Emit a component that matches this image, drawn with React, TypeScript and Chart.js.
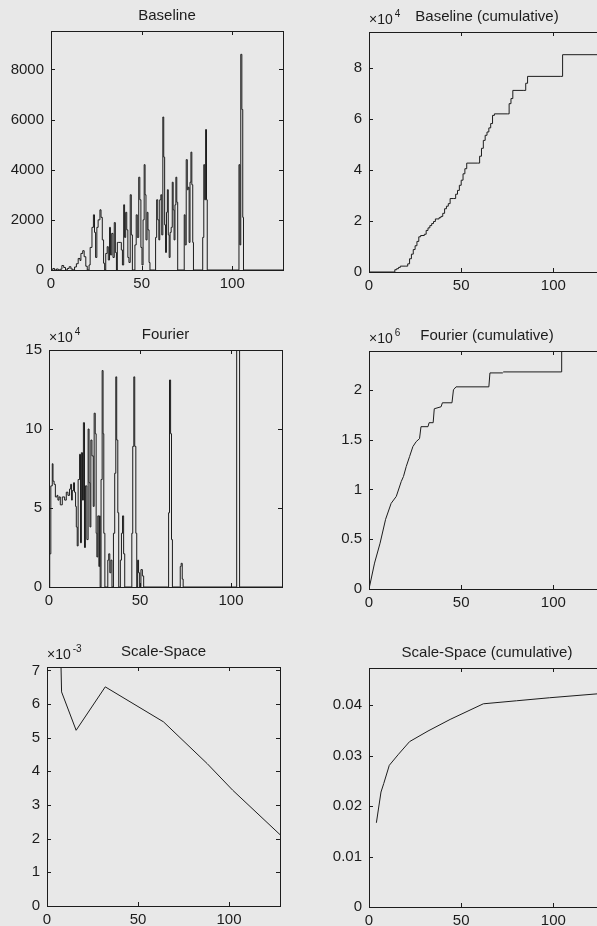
import React, { useEffect, useRef } from "react";
import { Chart, registerables } from "chart.js";
Chart.register(...registerables);

// ---------- shared axis data ----------
const xTicks = [0, 50, 100];
const xMax = 128;

// ---------- Baseline ----------
const baselineX = [
  0, 1, 2, 3, 4, 5, 6, 7, 8, 9, 10, 11, 12, 13, 14, 15, 16, 16.5, 17.5, 18.3, 19.2, 20,
  21, 21.6, 22.6, 23.4, 24, 24.6, 25.3, 26, 27, 27.6, 28.3, 29, 29.6, 30.2, 31, 31.6, 32.3, 32.8, 33.5, 34.2, 34.9, 35.5, 36.1, 36.6, 37.4, 38.2, 38.8, 39.4,
  40.1, 40.6, 41.2, 41.8, 42.4, 43, 43.7, 44.3, 44.9, 45.7, 46.3, 47, 47.6, 48.4, 49, 49.6, 50.2, 50.8, 51.4, 51.9, 52.4, 53, 53.5, 54.1, 54.6,
  57.2, 57.7, 58.3, 58.9, 59.5, 60, 60.6, 61.1, 61.7, 62.2, 62.7, 63.2, 63.7, 64.2, 64.7, 65.2, 65.7, 66.3, 66.9, 67.4, 67.9, 68.4, 68.9, 69.4, 69.9,
  72.9, 73.5, 74, 74.6, 75.2, 75.7, 76.2, 76.7, 77.2, 77.7, 78.2, 78.6,
  83.2, 83.7, 84.3, 84.8, 85.3, 85.8, 86.2,
  103.2, 103.7, 104.2, 104.7, 105.3, 105.8, 106.2, 128,
];
const baselineY = [
  0, 60, 0, 40, 0, 30, 180, 100, 0, 60, 130, 40, 0, 120, 250, 460, 380, 660, 770, 530, 150, 0,
  200, 900, 1700, 2200, 1500, 500, 1700, 2000, 2400, 2100, 1200, 270, 0, 660, 930, 400, 1700, 600, 1460, 500, 1890, 700, 0, 1100, 1100, 1100, 800, 200,
  2600, 1300, 2300, 1600, 500, 300, 3000, 1400, 0, 0, 1000, 2200, 1300, 3700, 2800, 900, 200, 2000, 4200, 3000, 1200, 2300, 1600, 300, 0,
  0, 1300, 2800, 2000, 1200, 2800, 3000, 1400, 6100, 4500, 1800, 700, 2300, 3200, 1400, 500, 1500, 1700, 3500, 2400, 1200, 2600, 3700, 2700, 0,
  0, 2200, 1000, 4400, 3200, 3300, 1100, 3500, 4700, 3400, 1100, 0,
  0, 1300, 4200, 2800, 5600, 2800, 0,
  0, 4200, 1000, 8600, 6400, 2100, 0, 0,
];
const baselineTicks = [0, 2000, 4000, 6000, 8000];
const baselineMax = 9530;

// ---------- Baseline (cumulative) ----------
const baselineCumX = [
  0, 13, 14, 15, 16, 17, 20, 21, 22, 23, 24, 25, 26, 27, 28, 30, 31, 32, 33, 34, 35, 36, 38, 39,
  40, 41, 42, 43, 44, 46, 47, 48, 49, 50, 51, 52, 53, 59, 60, 61, 62, 63, 64, 65, 66, 67, 68,
  75, 76, 77, 78, 84, 85, 86, 104, 105, 128,
];
const baselineCumY = [
  0, 0, 900, 1300, 1800, 2300, 2300, 3200, 5200, 7000, 8800, 10300, 12000, 13800, 14300, 14800, 16300, 17300, 18200, 19000, 19800, 20800, 21300, 21800,
  23000, 24800, 25800, 26800, 28800, 28800, 30500, 32000, 34000, 36000, 38500, 40500, 42700, 42700, 45400, 48500, 51600, 53600, 54900, 56500, 58200, 61400, 62000,
  62000, 66000, 68000, 71200, 71200, 74000, 76700, 76700, 85200, 85200,
];
const baselineCumTicks = [0, 20000, 40000, 60000, 80000];
const baselineCumMax = 94100;

// ---------- Fourier ----------
const fourierX = [
  0, 0.4, 1, 1.8, 2.2, 2.8, 3.5, 4.4, 4.9, 5.5, 6.2, 7.3, 8.6, 9.5, 10.4, 11.3, 11.9, 12.4, 12.8, 13.5, 14, 14.6, 15, 15.5,
  16, 16.8, 17.3, 17.8, 18.4, 18.9, 19.5, 20, 20.8, 21.5, 22, 22.5, 23, 23.6, 24.3, 24.8, 25.4, 25.9, 26.3, 26.8, 27.4, 27.8,
  28.1, 28.6, 29.2, 29.7, 30.1, 30.7, 31.6, 32.3, 32.8, 33.4, 34, 34.6, 35.4, 36.1, 36.7, 37.2, 37.8, 38.3, 38.8, 39.2, 39.8,
  40.4, 41, 41.6, 45.1, 45.5, 46, 46.6, 47.1, 47.7, 48.2, 48.7, 49.2, 49.8, 50.5, 51.3, 52,
  65, 65.7, 66.2, 66.8, 67.3, 67.8, 71.6, 72.1, 72.6, 73.2, 73.7,
  103, 103.1, 104.6, 104.7, 128,
];
const fourierY = [
  0, 21000, 64000, 78000, 67000, 65000, 57000, 58000, 55000, 57000, 52000, 57000, 55000, 60000, 58000, 62000, 65000, 55000, 61000, 66000, 60000, 51000, 38000, 26000,
  68000, 84000, 28000, 85000, 55000, 104000, 25000, 64000, 30000, 100000, 66000, 38000, 93000, 83000, 51000, 110000, 97000, 34000, 19000, 45000, 13000, 45000,
  0, 68000, 137000, 97000, 34000, 0, 0, 17000, 21000, 9000, 17000, 0, 34000, 72000, 133000, 93000, 47000, 0, 0, 17000, 34000,
  45000, 21000, 0, 0, 34000, 89000, 133000, 89000, 34000, 0, 17000, 9000, 0, 11000, 7000, 0,
  0, 47000, 131000, 97000, 30000, 0, 0, 13000, 15000, 5000, 0,
  0, 400000, 400000, 0, 0,
];
const fourierTicks = [0, 50000, 100000, 150000];
const fourierMax = 150000;

// ---------- Fourier (cumulative) ----------
const fourierCumX = [
  0, 3, 6, 9, 12, 14.8, 17.5, 18.7, 20.2, 22, 23.8, 25.6, 27.4, 28.2, 32, 32.6, 34.8, 35.4, 39.1, 39.8,
  45, 45.8, 47.2, 65, 65.6, 72.4, 73, 104.3, 104.5, 128,
];
const fourierCumY = [
  0, 260000, 460000, 700000, 860000, 930000, 1080000, 1130000, 1230000, 1330000, 1430000, 1480000, 1510000, 1630000, 1630000, 1670000, 1670000, 1810000, 1830000, 1870000,
  1870000, 2000000, 2030000, 2030000, 2170000, 2170000, 2180000, 2180000, 2390000, 2390000,
];
const fourierCumTicks = [0, 500000, 1000000, 1500000, 2000000];
const fourierCumMax = 2390000;

// ---------- Scale-Space ----------
const scaleX = [4, 8, 16, 32, 64, 88, 102, 128];
const scaleY = [0.0165, 0.00636, 0.00522, 0.00651, 0.00547, 0.00423, 0.00344, 0.00212];
const scaleTicks = [0, 0.001, 0.002, 0.003, 0.004, 0.005, 0.006, 0.007];
const scaleMax = 0.0071;

// ---------- Scale-Space (cumulative) ----------
const scaleCumX = [4, 6.5, 8, 11, 16, 22, 32, 44, 62, 80, 98, 128];
const scaleCumY = [0.0167, 0.0228, 0.0245, 0.0281, 0.0303, 0.0328, 0.0349, 0.0372, 0.0403, 0.0409, 0.0415, 0.0424];
const scaleCumTicks = [0, 0.01, 0.02, 0.03, 0.04];
const scaleCumMax = 0.0474;

// ---------- layout / style ----------
const FONT = "'Liberation Sans', Arial, Helvetica, sans-serif";
const INK = "#1c1c1c";
const PAPER = "#e8e8e8";
const PADL = 60;
const PADT = 40;
const PADR = 14;
const PADB = 30;

type PanelDef = {
  box: [number, number, number, number];
  title: string;
  exp?: string;
  xs: number[];
  ys: number[];
  yTicks: number[];
  yMax: number;
  fmt: (v: number) => string;
  stepped?: boolean;
};

const trim = (v: number) => String(parseFloat(v.toPrecision(6)));

const panels: PanelDef[] = [
  { box: [51, 31, 232, 239], title: "Baseline", xs: baselineX, ys: baselineY, yTicks: baselineTicks, yMax: baselineMax, fmt: (v) => trim(v), stepped: true },
  { box: [369, 32, 236, 240], title: "Baseline (cumulative)", exp: "4", xs: baselineCumX, ys: baselineCumY, yTicks: baselineCumTicks, yMax: baselineCumMax, fmt: (v) => trim(v / 1e4), stepped: true },
  { box: [49, 350, 233, 237], title: "Fourier", exp: "4", xs: fourierX, ys: fourierY, yTicks: fourierTicks, yMax: fourierMax, fmt: (v) => trim(v / 1e4), stepped: true },
  { box: [369, 351, 236, 238], title: "Fourier (cumulative)", exp: "6", xs: fourierCumX, ys: fourierCumY, yTicks: fourierCumTicks, yMax: fourierCumMax, fmt: (v) => trim(v / 1e6) },
  { box: [47, 667, 233, 239], title: "Scale-Space", exp: "-3", xs: scaleX, ys: scaleY, yTicks: scaleTicks, yMax: scaleMax, fmt: (v) => trim(v * 1e3) },
  { box: [369, 668, 236, 239], title: "Scale-Space (cumulative)", xs: scaleCumX, ys: scaleCumY, yTicks: scaleCumTicks, yMax: scaleCumMax, fmt: (v) => trim(v) },
];

function makeFramePlugin(def: PanelDef) {
  return {
    id: "matlabFrame",
    afterDraw(chart: any) {
      const { ctx, chartArea } = chart;
      const { left, top, right, bottom } = chartArea;
      const xs = chart.scales.x;
      const ys = chart.scales.y;
      ctx.save();
      ctx.strokeStyle = INK;
      ctx.lineWidth = 1;
      ctx.strokeRect(Math.round(left) + 0.5, Math.round(top) + 0.5, Math.round(right - left), Math.round(bottom - top));
      ctx.beginPath();
      const TL = 4;
      xs.ticks.forEach((t: any) => {
        const px = Math.round(xs.getPixelForValue(t.value)) + 0.5;
        ctx.moveTo(px, bottom);
        ctx.lineTo(px, bottom - TL);
        ctx.moveTo(px, top);
        ctx.lineTo(px, top + TL);
      });
      ys.ticks.forEach((t: any) => {
        const py = Math.round(ys.getPixelForValue(t.value)) + 0.5;
        ctx.moveTo(left, py);
        ctx.lineTo(left + TL, py);
        ctx.moveTo(right, py);
        ctx.lineTo(right - TL, py);
      });
      ctx.stroke();

      ctx.fillStyle = INK;
      ctx.font = `15px ${FONT}`;
      ctx.textAlign = "center";
      ctx.textBaseline = "alphabetic";
      ctx.fillText(def.title, (left + right) / 2, top - 11);

      if (def.exp) {
        ctx.textAlign = "left";
        ctx.font = `14px ${FONT}`;
        ctx.fillText("\u00d710", left, top - 8);
        const w = ctx.measureText("\u00d710").width;
        ctx.font = `10px ${FONT}`;
        ctx.fillText(def.exp, left + w + 2, top - 15);
      }
      ctx.restore();
    },
  };
}

function Panel({ def }: { def: PanelDef }) {
  const ref = useRef<HTMLCanvasElement | null>(null);
  const [bl, bt, bw, bh] = def.box;
  const cw = bw + PADL + PADR;
  const ch = bh + PADT + PADB;

  useEffect(() => {
    if (!ref.current) return;
    const pts = def.xs.map((x, i) => ({ x, y: def.ys[i] }));
    const tickFont = { family: FONT, size: 15 };
    const chart = new Chart(ref.current, {
      type: "scatter",
      data: {
        datasets: [
          {
            data: pts,
            showLine: true,
            borderColor: INK,
            borderWidth: 1,
            pointRadius: 0,
            pointHoverRadius: 0,
            stepped: def.stepped ? "before" : false,
            tension: 0,
            fill: false,
          } as any,
        ],
      },
      options: {
        animation: false,
        responsive: false,
        devicePixelRatio: 1,
        events: [],
        layout: { padding: { top: PADT, right: PADR, left: 0, bottom: 0 } },
        plugins: {
          legend: { display: false },
          tooltip: { enabled: false },
          title: { display: false },
        },
        scales: {
          x: {
            type: "linear",
            min: 0,
            max: xMax,
            grid: { display: false, drawTicks: false },
            border: { display: false },
            ticks: { font: tickFont, color: INK, padding: 5, maxRotation: 0, autoSkip: false, includeBounds: false },
            afterBuildTicks: (s: any) => {
              s.ticks = xTicks.map((v) => ({ value: v }));
            },
            afterFit: (s: any) => {
              s.height = PADB;
            },
          },
          y: {
            type: "linear",
            min: 0,
            max: def.yMax,
            grid: { display: false, drawTicks: false },
            border: { display: false },
            ticks: {
              font: tickFont,
              color: INK,
              padding: 7,
              autoSkip: false,
              includeBounds: false,
              callback: (v: any) => def.fmt(Number(v)),
            },
            afterBuildTicks: (s: any) => {
              s.ticks = def.yTicks.map((v) => ({ value: v }));
            },
            afterFit: (s: any) => {
              s.width = PADL;
            },
          },
        } as any,
      },
      plugins: [makeFramePlugin(def)],
    });
    return () => chart.destroy();
  }, [def]);

  return (
    <canvas
      ref={ref}
      width={cw}
      height={ch}
      style={{ position: "absolute", left: bl - PADL, top: bt - PADT, width: cw, height: ch }}
    />
  );
}

export default function App() {
  return (
    <div
      style={{
        position: "absolute",
        left: 0,
        top: 0,
        width: 597,
        height: 926,
        overflow: "hidden",
        background: PAPER,
      }}
    >
      {panels.map((p, i) => (
        <Panel key={i} def={p} />
      ))}
    </div>
  );
}
